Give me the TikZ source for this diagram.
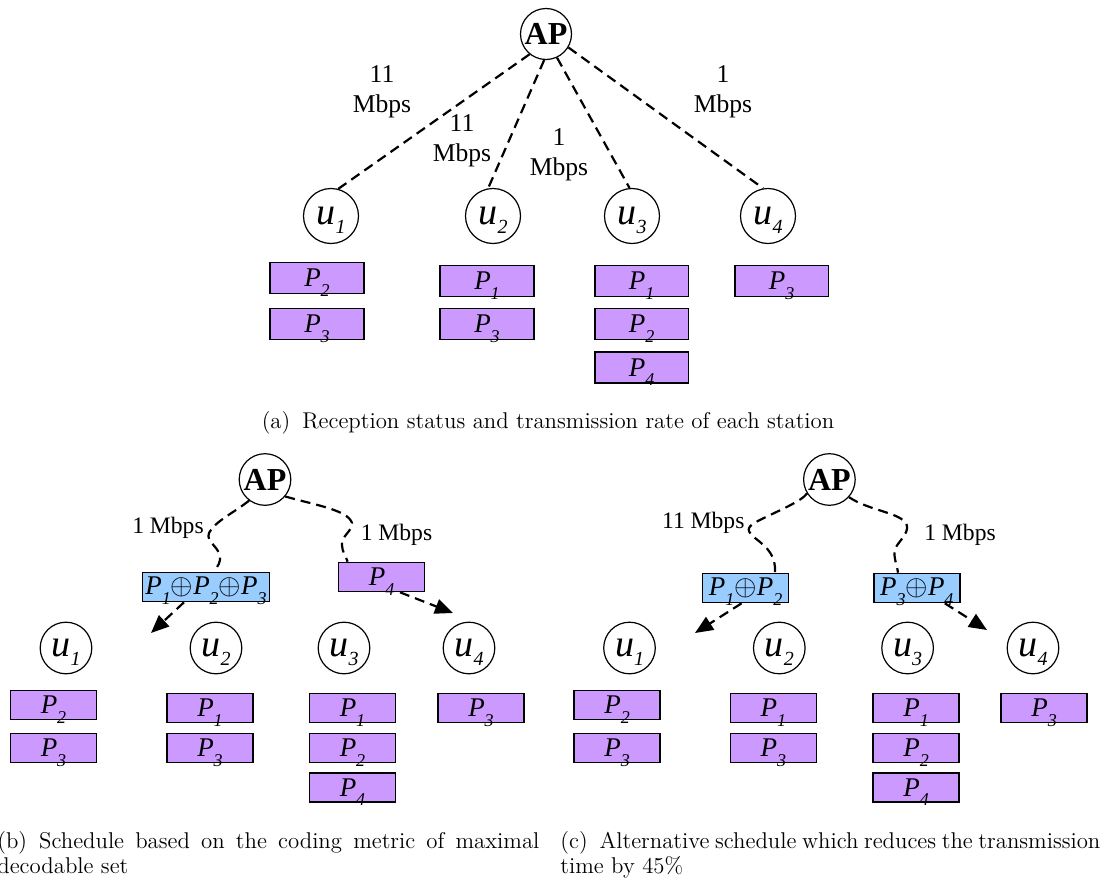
\documentclass[tikz,border=0pt]{standalone}
\usepackage{fontspec}
\newfontfamily\tms{Liberation Serif}
\usetikzlibrary{arrows.meta}
\definecolor{pktfill}{RGB}{204,153,255}
\definecolor{codfill}{RGB}{153,204,255}
\newcommand{\pkt}[1]{\textit{P}\smash{\raisebox{-4.8pt}{\fontsize{9}{9}\selectfont\textit{#1}}}}
\newcommand{\usr}[1]{\textit{u}\smash{\raisebox{-4.6pt}{\fontsize{10}{10}\selectfont\textit{#1}}}}
\tikzset{
  sta/.style={circle,draw,line width=0.6pt,inner sep=0pt,minimum size=#1,font=\tms\fontsize{19}{19}\selectfont},
  ap/.style={sta=#1,font=\tms\bfseries\fontsize{16}{16}\selectfont},
  pkt/.style={draw,line width=0.8pt,fill=pktfill,inner sep=0pt,minimum height=#1,font=\tms\fontsize{13.5}{13.5}\selectfont},
  pkta/.style={pkt=15.5pt,minimum width=46.8pt},
  pktb/.style={pkt=14.5pt,minimum width=43pt},
  cod/.style={pktb,fill=codfill},
  rate/.style={font=\tms\fontsize{#1}{15}\selectfont,align=center,inner sep=0pt},
  captxt/.style={font=\fontsize{11.4}{12.8}\selectfont,inner sep=0pt},
  link/.style={line width=1.1pt,dash pattern=on 5pt off 3pt},
  arr/.style={link,-{Triangle[length=9pt,width=7.5pt]}}
}
\begin{document}
\begin{tikzpicture}[x=0.5pt,y=-0.5pt]
\useasboundingbox (0,0) rectangle (1105,878);

\node[ap=25.5pt] (apa) at (546,34) {AP};
\foreach \n/\x in {1/331,2/493,3/632,4/768}
  \node[sta=27.5pt] (ua\n) at (\x,216) {\usr{\n}};

\draw[link] (apa.231) -- (ua1.75);
\draw[link] (apa.266) -- (ua2.100);
\draw[link] (apa.295) -- (ua3.95);
\draw[link] (apa.329) -- (ua4.100);

\node[rate=12.8] (ra1) at (382,92) {11\\Mbps};
\node[rate=12.8] (ra2) at (462,141) {11\\Mbps};
\node[rate=12.8] (ra3) at (559,155) {1\\Mbps};
\node[rate=12.8] (ra4) at (723,92) {1\\Mbps};

\foreach \n/\x/\y/\p in {1/317/278/2,2/317/324/3,3/487/281/1,4/487/324/3,
  5/641.6/281/1,6/641.6/324/2,7/641.6/367.5/4,8/781.5/281/3}
  \node[pkta] (pa\n) at (\x,\y) {\pkt{\p}};

\node[captxt,anchor=base] (capa) at (548,428) {(a)\hspace{6pt}Reception status and transmission rate of each station};

\node[ap=25.8pt] (apb) at (265,479.5) {AP};
\foreach \n/\x in {1/66,2/216,3/344,4/469}
  \node[sta=25.8pt] (ub\n) at (\x,648) {\usr{\n}};

\foreach \n/\x/\y/\p in {1/53.5/705/2,2/53.5/748/3,3/210/708/1,4/210/748/3,
  5/352.5/708/1,6/352.5/748/2,7/352.5/787.5/4,8/481/708/3}
  \node[pktb] (pb\n) at (\x,\y) {\pkt{\p}};

\node[cod,minimum width=63.5pt] (codb) at (206,587) {\pkt{1}$\oplus$\pkt{2}$\oplus$\pkt{3}};
\node[pktb] (p4b) at (381.6,577) {\pkt{4}};

\draw[link] (apb.233) .. controls (235,512) and (214,522) .. (209,533)
  .. controls (205,542) and (222,548) .. (220,560)
  .. controls (219,566) and (215,569) .. ([xshift=4pt]codb.north);
\draw[link] (apb.320) .. controls (315,505) and (348,510) .. (352,523)
  .. controls (352,532) and (341,536) .. (342,545)
  .. controls (342,552) and (346,556) .. ([xshift=-17pt]p4b.north);

\node[rate=11.8] (rb1) at (168,528) {1 Mbps};
\node[rate=11.8] (rb2) at (396.5,535) {1 Mbps};

\coordinate (tb1) at (151,633);
\coordinate (tb2) at (453,613);
\draw[arr] ([xshift=-11pt]codb.south) -- (tb1);
\draw[arr] ([xshift=9.2pt]p4b.south) -- (tb2);

\node[captxt,anchor=base west] (capb) at (-3,848) {\parbox[t]{271pt}{\makebox[271pt][s]{(b)\hspace{6pt}Schedule based on the coding metric of maximal}\\decodable set}};

\node[ap=25.8pt] (apc) at (829.4,479.5) {AP};
\foreach \n/\x in {1/629.5,2/779.3,3/907.6,4/1033}
  \node[sta=25.8pt] (uc\n) at (\x,648) {\usr{\n}};

\foreach \n/\x/\y/\p in {1/617/705/2,2/617/748/3,3/773.4/708/1,4/773.4/748/3,
  5/916/708/1,6/916/748/2,7/916/787.5/4,8/1044/708/3}
  \node[pktb] (pc\n) at (\x,\y) {\pkt{\p}};

\node[cod] (p12c) at (745.6,588) {\pkt{1}$\oplus$\pkt{2}};
\node[cod] (p34c) at (916.8,588) {\pkt{3}$\oplus$\pkt{4}};

\draw[link] (apc.212) .. controls (801,502) and (775,512) .. (756,522)
  .. controls (745,528) and (748,532) .. (755,538)
  .. controls (768,548) and (776,556) .. ([xshift=14.7pt]p12c.north);
\draw[link] (apc.318) .. controls (868,510) and (896,512) .. (905,522)
  .. controls (912,530) and (900,540) .. (896,547)
  .. controls (892,555) and (897,564) .. ([xshift=-9.4pt]p34c.north);

\node[rate=11.8] (rc1) at (703.3,523.3) {11 Mbps};
\node[rate=11.8] (rc2) at (960,535) {1 Mbps};

\coordinate (tc1) at (695,633);
\coordinate (tc2) at (987,630);
\draw[arr] ([xshift=-2pt]p12c.south) -- (tc1);
\draw[arr] ([xshift=14pt]p34c.south) -- (tc2);

\node[captxt,anchor=base west] (capc) at (560,848) {\parbox[t]{270pt}{\makebox[270pt][s]{(c)\hspace{6pt}Alternative schedule which reduces the transmission}\\time by 45\%}};
\end{tikzpicture}
\end{document}
